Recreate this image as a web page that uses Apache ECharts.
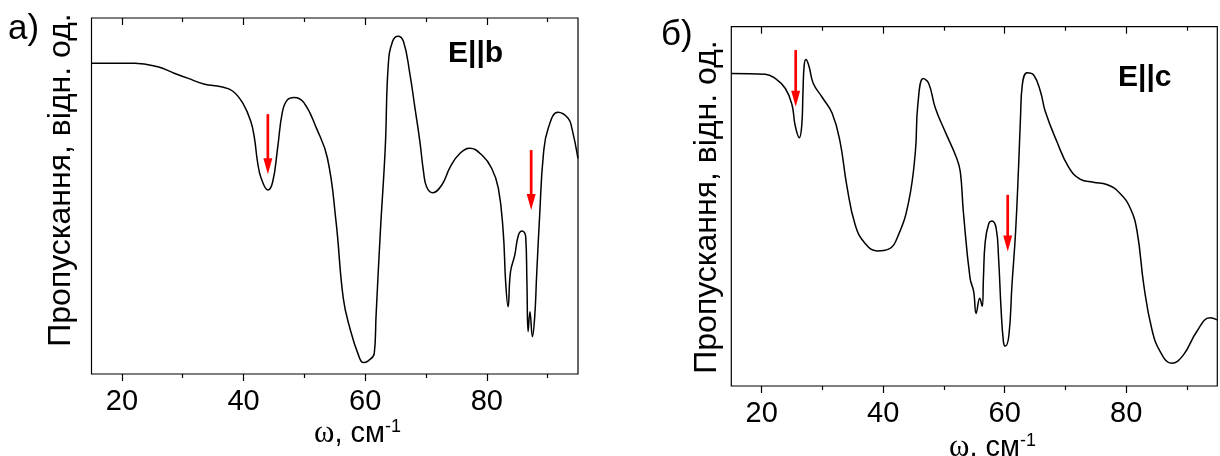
<!DOCTYPE html>
<html>
<head>
<meta charset="utf-8">
<script src="https://cdn.jsdelivr.net/npm/echarts@6/dist/echarts.min.js"></script>
<style>html,body{margin:0;padding:0;background:#fff}#c{width:1220px;height:456px}</style>
</head>
<body>
<div id="c"></div>
<script>
// ---- data (wavenumber, cm^-1 / transmission, relative units 0..100) ----
const majorTicks = [20, 40, 60, 80];
const minorTicks = [30, 50, 70, 90];

const waveA = [15, 22.1, 25.9, 28.6, 30.8, 33.6, 36.3, 38.2, 39.9, 41.2, 41.8, 42.3, 42.9, 44.0, 44.8, 45.6, 46.4, 47.2, 48.3, 49.9, 52.0, 53.8, 55.2, 56.4, 57.5, 58.9, 59.7, 60.5, 61.5, 61.8, 62.5, 63.3, 63.8, 64.5, 65.4, 66.3, 67.3, 68.2, 69.0, 69.6, 70.1, 71.1, 72.6, 74.0, 75.6, 77.2, 79.2, 80.8, 81.9, 82.7, 83.1, 83.5, 83.9, 84.6, 85.2, 85.8, 86.4, 86.6, 86.8, 87.1, 87.5, 87.9, 88.2, 88.7, 89.3, 90.1, 91.7, 93.4, 94.0, 95.0];
const transA = [87.3, 87.3, 86.3, 84.5, 83.1, 81.4, 80.7, 79.5, 76.0, 70.9, 66.2, 59.6, 55.0, 51.7, 54.0, 63.4, 73.7, 77.0, 77.7, 76.3, 69.0, 60.6, 43.0, 21.3, 12.8, 5.3, 3.2, 3.7, 5.8, 16.6, 40.0, 63.4, 86.8, 93.4, 94.9, 93.4, 84.9, 74.6, 65.3, 56.8, 52.6, 50.9, 53.1, 58.2, 62.0, 63.4, 61.5, 57.8, 52.2, 40.0, 25.9, 18.9, 28.7, 33.4, 39.0, 40.2, 38.6, 25.9, 11.9, 17.5, 10.5, 16.6, 27.8, 44.7, 61.5, 69.0, 73.5, 71.8, 69.0, 60.6];

const waveB = [15, 20.6, 22.2, 23.9, 25.0, 25.5, 26.2, 26.6, 26.8, 27.0, 27.3, 27.8, 28.5, 29.9, 31.6, 32.9, 34.0, 35.4, 37.0, 39.0, 40.9, 42.5, 44.2, 45.3, 45.7, 46.6, 47.5, 48.6, 50.2, 52.1, 52.7, 53.2, 54.3, 54.9, 55.3, 55.9, 56.3, 56.5, 56.8, 57.4, 57.9, 58.6, 59.0, 59.4, 59.8, 60.1, 60.7, 61.2, 61.8, 62.3, 62.6, 62.9, 63.7, 64.8, 65.9, 66.7, 68.6, 70.5, 72.4, 74.6, 76.8, 79.0, 80.7, 81.8, 82.9, 84.2, 85.6, 87.5, 89.4, 91.6, 93.8, 95.0];
const transB = [87.0, 86.8, 85.6, 82.8, 78.2, 72.6, 69.1, 72.6, 81.9, 89.3, 90.9, 88.9, 84.2, 80.5, 75.9, 68.0, 55.9, 44.8, 39.7, 37.6, 38.1, 42.0, 51.3, 65.2, 78.2, 85.6, 84.2, 77.3, 70.8, 63.4, 59.6, 48.5, 30.0, 26.3, 20.2, 24.4, 22.1, 30.0, 40.2, 45.3, 45.9, 43.9, 35.5, 21.6, 12.3, 11.1, 14.2, 28.1, 43.0, 61.5, 74.5, 83.8, 87.2, 86.5, 81.9, 76.3, 68.0, 61.0, 57.6, 56.7, 56.1, 53.6, 49.4, 43.0, 28.1, 16.0, 9.6, 6.3, 8.6, 15.1, 19.0, 18.4];

// arrows: x, top y, tip y
const arrowXA = [44.0, 87.3];
const arrowTopA = [73.0, 62.9];
const arrowTipA = [56.1, 46.1];
const arrowXB = [25.6, 60.5];
const arrowTopB = [93.5, 53.2];
const arrowTipB = [77.7, 37.4];

const yLabel = 'Пропускання, відн. од.';
const panelA = 'а)', panelB = 'б)';
const polA = 'E||b', polB = 'E||c';

// ---- build ----
const SANS = '"Liberation Sans", Arial, sans-serif';
const SERIF = '"Liberation Serif", "Times New Roman", serif';
const zip = (a, b) => a.map((v, i) => [v, b[i]]);
const zip3 = (a, b, c) => a.map((v, i) => [v, b[i], c[i]]);

function xAxes(gi) {
  const base = {type: 'value', gridIndex: gi, min: 15, max: 95, splitLine: {show: false},
    axisLine: {show: false, onZero: false}};
  return [
    Object.assign({}, base, {position: 'bottom',
      axisTick: {show: true, customValues: majorTicks, length: 7, inside: false, lineStyle: {color: '#000', width: 1.2}},
      axisLabel: {show: true, customValues: majorTicks, fontSize: 29, fontFamily: SANS, color: '#000', margin: 13}}),
    Object.assign({}, base, {position: 'bottom',
      axisTick: {show: true, customValues: minorTicks, length: 4, inside: false, lineStyle: {color: '#000', width: 1.2}},
      axisLabel: {show: false}}),
    Object.assign({}, base, {position: 'top',
      axisTick: {show: true, customValues: majorTicks, length: 7, inside: true, lineStyle: {color: '#000', width: 1.2}},
      axisLabel: {show: false}}),
    Object.assign({}, base, {position: 'top',
      axisTick: {show: true, customValues: minorTicks, length: 4, inside: true, lineStyle: {color: '#000', width: 1.2}},
      axisLabel: {show: false}})
  ];
}
function yAxis(gi) {
  return {type: 'value', gridIndex: gi, min: 0, max: 100, axisLine: {show: false}, axisTick: {show: false},
    axisLabel: {show: false}, splitLine: {show: false}};
}
function renderArrow(params, api) {
  const x = api.value(0), yTop = api.value(1), yTip = api.value(2);
  const p0 = api.coord([x, yTop]), p1 = api.coord([x, yTip]);
  const headLen = 16, headW = 9;
  return {type: 'group', children: [
    {type: 'line', shape: {x1: p0[0], y1: p0[1], x2: p1[0], y2: p1[1] - headLen + 2},
      style: {stroke: '#f00', lineWidth: 2.7}},
    {type: 'polygon', shape: {points: [[p1[0] - headW / 2, p1[1] - headLen], [p1[0] + headW / 2, p1[1] - headLen], [p1[0], p1[1]]]},
      style: {fill: '#f00'}}
  ]};
}
const lineStyle = {color: '#000', width: 1.5};

function xName(x, y) {
  return {type: 'text', x: x, y: y, style: {
    text: '{w|ω}{c|, см}{s|-1}', align: 'left', verticalAlign: 'bottom', fill: '#000',
    rich: {
      w: {fontFamily: SERIF, fontSize: 31, fill: '#000'},
      c: {fontFamily: SANS, fontSize: 29, fill: '#000'},
      s: {fontFamily: SANS, fontSize: 18, fill: '#000', verticalAlign: 'top'}
    }}};
}

const option = {
  animation: false,
  backgroundColor: '#fff',
  grid: [
    {left: 91.5, top: 18, width: 486.5, height: 356, show: true, borderColor: '#000', borderWidth: 1.2, backgroundColor: 'transparent'},
    {left: 731.3, top: 26.7, width: 486, height: 359.3, show: true, borderColor: '#000', borderWidth: 1.2, backgroundColor: 'transparent'}
  ],
  xAxis: xAxes(0).concat(xAxes(1)),
  yAxis: [yAxis(0), yAxis(1)],
  series: [
    {type: 'line', xAxisIndex: 0, yAxisIndex: 0, data: zip(waveA, transA), showSymbol: false, symbol: 'none',
      smooth: 0.45, lineStyle: lineStyle},
    {type: 'custom', xAxisIndex: 0, yAxisIndex: 0, data: zip3(arrowXA, arrowTopA, arrowTipA),
      encode: {x: 0, y: [1, 2]}, renderItem: renderArrow, z: 5},
    {type: 'line', xAxisIndex: 4, yAxisIndex: 1, data: zip(waveB, transB), showSymbol: false, symbol: 'none',
      smooth: 0.45, lineStyle: lineStyle},
    {type: 'custom', xAxisIndex: 4, yAxisIndex: 1, data: zip3(arrowXB, arrowTopB, arrowTipB),
      encode: {x: 0, y: [1, 2]}, renderItem: renderArrow, z: 5}
  ],
  graphic: [
    {type: 'text', x: 8, y: 29, style: {text: panelA, fontFamily: SANS, fontSize: 35, fill: '#000', align: 'left', verticalAlign: 'middle'}},
    {type: 'text', x: 661, y: 35, style: {text: panelB, fontFamily: SANS, fontSize: 35, fill: '#000', align: 'left', verticalAlign: 'middle'}},
    {type: 'text', x: 61, y: 180, rotation: Math.PI / 2, style: {text: yLabel, fontFamily: SANS, fontSize: 32, fill: '#000', align: 'center', verticalAlign: 'middle'}},
    {type: 'text', x: 707, y: 207, rotation: Math.PI / 2, style: {text: yLabel, fontFamily: SANS, fontSize: 32, fill: '#000', align: 'center', verticalAlign: 'middle'}},
    {type: 'text', x: 448, y: 54, style: {text: polA, fontFamily: SANS, fontWeight: 'bold', fontSize: 30, fill: '#000', align: 'left', verticalAlign: 'middle'}},
    {type: 'text', x: 1118, y: 78, style: {text: polB, fontFamily: SANS, fontWeight: 'bold', fontSize: 30, fill: '#000', align: 'left', verticalAlign: 'middle'}},
    xName(314, 449),
    xName(949, 463)
  ]
};
const chart = echarts.init(document.getElementById('c'), null, {renderer: 'canvas'});
chart.setOption(option);
</script>
</body>
</html>
